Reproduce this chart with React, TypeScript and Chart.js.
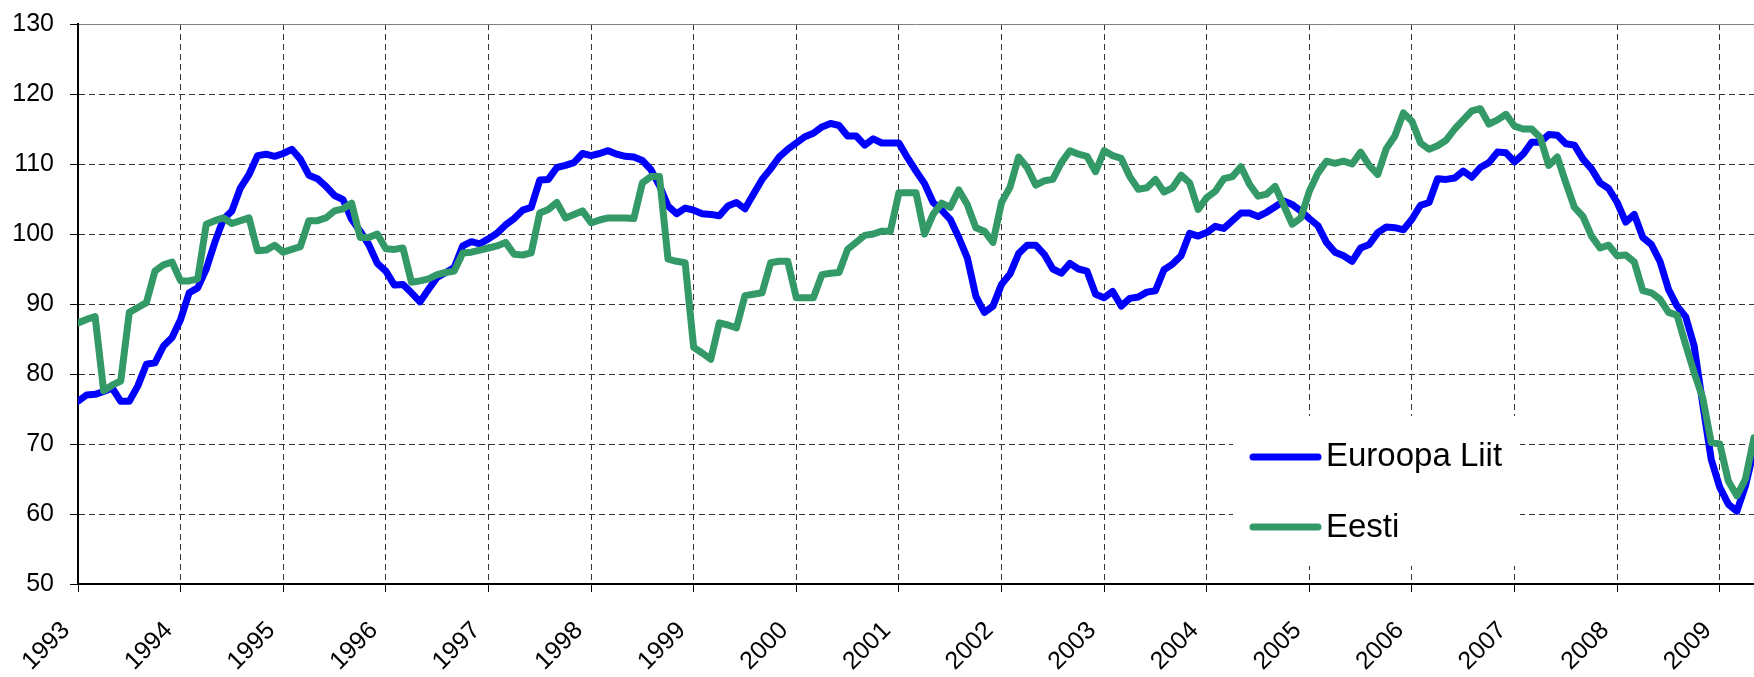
import React, { useEffect, useRef } from "react";
import { Chart, registerables } from "chart.js";

Chart.register(...registerables);

// Monthly index, Jan 1993 .. May 2009
const firstYear = 1993;
const yearTicks = [1993, 1994, 1995, 1996, 1997, 1998, 1999, 2000, 2001, 2002, 2003, 2004, 2005, 2006, 2007, 2008, 2009];
const yTicks = [50, 60, 70, 80, 90, 100, 110, 120, 130];
const seriesNames = ["Euroopa Liit", "Eesti"];

const euroopaLiit = [
  76.1, 77.0, 77.1, 77.5, 78.0, 76.1, 76.1, 78.3, 81.4, 81.6, 84.0, 85.2,
  87.8, 91.6, 92.3, 95.0, 98.8, 102.1, 103.3, 106.6, 108.5, 111.2, 111.4, 111.1,
  111.5, 112.1, 110.7, 108.4, 107.9, 106.8, 105.5, 104.9, 102.1, 100.4, 98.5, 95.8,
  94.7, 92.7, 92.8, 91.6, 90.3, 92.1, 93.8, 94.5, 95.2, 98.3, 98.9, 98.6,
  99.3, 100.1, 101.3, 102.2, 103.4, 103.8, 107.7, 107.8, 109.5, 109.8, 110.2, 111.5,
  111.2, 111.5, 111.9, 111.4, 111.1, 111.0, 110.5, 109.2, 106.9, 104.0, 102.9, 103.7,
  103.4, 102.9, 102.8, 102.6, 104.0, 104.5, 103.6, 105.7, 107.8, 109.3, 111.0, 112.1,
  113.0, 113.9, 114.4, 115.3, 115.8, 115.5, 114.0, 114.0, 112.7, 113.6, 113.0, 113.0,
  113.0, 110.9, 109.0, 107.2, 104.5, 103.4, 102.1, 99.5, 96.6, 91.1, 88.8, 89.7,
  92.8, 94.3, 97.2, 98.4, 98.4, 97.1, 95.0, 94.4, 95.8, 95.0, 94.7, 91.4,
  90.9, 91.8, 89.7, 90.8, 91.0, 91.7, 91.9, 94.9, 95.7, 96.9, 100.1, 99.7,
  100.2, 101.1, 100.8, 101.9, 103.0, 103.0, 102.5, 103.1, 103.9, 104.7, 104.2, 103.3,
  102.2, 101.2, 98.8, 97.4, 96.9, 96.1, 98.0, 98.5, 100.2, 101.0, 100.9, 100.6,
  102.1, 104.1, 104.5, 107.9, 107.8, 108.0, 109.0, 108.1, 109.5, 110.2, 111.7, 111.6,
  110.3, 111.4, 113.1, 113.1, 114.2, 114.1, 112.9, 112.7, 110.7, 109.3, 107.3, 106.5,
  104.5, 101.7, 102.8, 99.5, 98.5, 96.1, 92.1, 89.7, 88.2, 84.0, 75.7, 67.8,
  63.8, 61.4, 60.4, 64.0, 69.2,
];

const eesti = [
  87.3, 87.8, 88.2, 77.6, 78.4, 79.0, 88.8, 89.5, 90.2, 94.7, 95.6, 96.0,
  93.3, 93.3, 93.6, 101.4, 101.9, 102.3, 101.5, 101.9, 102.3, 97.6, 97.7, 98.4,
  97.4, 97.8, 98.2, 101.9, 101.9, 102.3, 103.3, 103.6, 104.4, 99.5, 99.5, 100.0,
  97.9, 97.8, 98.0, 93.1, 93.3, 93.6, 94.2, 94.5, 94.7, 97.3, 97.4, 97.7,
  98.0, 98.3, 98.8, 97.1, 97.0, 97.3, 103.0, 103.5, 104.5, 102.3, 102.8, 103.3,
  101.6, 102.0, 102.3, 102.3, 102.3, 102.2, 107.3, 108.2, 108.2, 96.4, 96.1, 95.9,
  83.8, 83.0, 82.1, 87.3, 87.0, 86.6, 91.2, 91.4, 91.6, 95.9, 96.1, 96.1,
  90.9, 90.9, 90.9, 94.2, 94.4, 94.5, 97.8, 98.8, 99.8, 100.0, 100.4, 100.4,
  105.9, 105.9, 105.9, 100.0, 102.8, 104.4, 103.8, 106.3, 104.2, 100.9, 100.4, 98.8,
  104.5, 106.7, 111.0, 109.5, 107.0, 107.6, 107.8, 110.2, 111.9, 111.4, 111.1, 108.9,
  111.9, 111.2, 110.8, 108.2, 106.4, 106.6, 107.8, 106.0, 106.6, 108.4, 107.3, 103.5,
  105.2, 106.1, 107.9, 108.2, 109.6, 107.1, 105.4, 105.7, 106.8, 104.1, 101.4, 102.3,
  106.1, 108.7, 110.4, 110.1, 110.4, 110.0, 111.7, 109.8, 108.5, 112.2, 114.0, 117.3,
  116.1, 113.0, 112.1, 112.6, 113.4, 115.0, 116.3, 117.6, 117.9, 115.7, 116.3, 117.1,
  115.4, 115.0, 115.0, 113.8, 109.8, 111.0, 107.3, 103.8, 102.5, 99.7, 98.0, 98.4,
  96.9, 97.0, 96.0, 91.9, 91.6, 90.7, 88.8, 88.4, 84.2, 80.2, 76.6, 70.2,
  70.0, 64.7, 62.6, 65.0, 70.9,
];

const colors = ["#0000FF", "#339966"];
const FONT = "'Liberation Sans', Arial, sans-serif";

export default function App() {
  const ref = useRef<HTMLCanvasElement | null>(null);

  useEffect(() => {
    document.body.style.margin = "0";
    const canvas = ref.current;
    if (!canvas) return;

    const legendPlugin = {
      id: "insideLegend",
      afterDatasetsDraw(chart: any) {
        const ctx = chart.ctx as CanvasRenderingContext2D;
        ctx.save();
        ctx.fillStyle = "#ffffff";
        ctx.fillRect(1233, 416, 287, 150);
        const rows = [
          { y: 457, base: 466 },
          { y: 527, base: 537 },
        ];
        rows.forEach((r, k) => {
          ctx.strokeStyle = colors[k];
          ctx.lineWidth = 7;
          ctx.lineCap = "round";
          ctx.beginPath();
          ctx.moveTo(1253, r.y);
          ctx.lineTo(1318, r.y);
          ctx.stroke();
          ctx.fillStyle = "#000";
          ctx.font = `33px ${FONT}`;
          ctx.textAlign = "left";
          ctx.textBaseline = "alphabetic";
          ctx.fillText(seriesNames[k], 1326, r.base);
        });
        ctx.restore();
      },
    };

    const chart = new Chart(canvas, {
      type: "line",
      data: {
        datasets: [
          {
            label: seriesNames[0],
            data: euroopaLiit.map((y, i) => ({ x: i, y })),
            borderColor: colors[0],
            backgroundColor: colors[0],
            borderWidth: 7,
            pointRadius: 0,
            tension: 0,
            borderJoinStyle: "round",
            borderCapStyle: "round",
            order: 2,
          },
          {
            label: seriesNames[1],
            data: eesti.map((y, i) => ({ x: i, y })),
            borderColor: colors[1],
            backgroundColor: colors[1],
            borderWidth: 7,
            pointRadius: 0,
            tension: 0,
            borderJoinStyle: "round",
            borderCapStyle: "round",
            order: 1,
          },
        ],
      },
      options: {
        responsive: false,
        animation: false,
        devicePixelRatio: 1,
        layout: { autoPadding: false, padding: { top: 24, left: 0, right: 0, bottom: 0 } },
        plugins: {
          legend: { display: false },
          tooltip: { enabled: false },
        },
        scales: {
          x: {
            type: "linear",
            min: 0,
            max: euroopaLiit.length - 1,
            afterBuildTicks: (scale: any) => {
              scale.ticks = yearTicks.map((yr) => ({ value: (yr - firstYear) * 12 }));
            },
            afterFit: (scale: any) => {
              scale.height = 93;
              scale.paddingLeft = 0;
              scale.paddingRight = 0;
            },
            ticks: {
              autoSkip: false,
              maxRotation: 45,
              minRotation: 45,
              padding: 24,
              labelOffset: -12,
              color: "#000",
              font: { family: FONT, size: 25 },
              callback: (v: any) => String(firstYear + Math.round(Number(v) / 12)),
            },
            grid: {
              color: "#333333",
              lineWidth: 1,
              tickLength: 8,
              tickColor: "#000",
              tickWidth: 1,
            },
            border: { display: true, color: "#000", width: 2, dash: [6, 4] },
          },
          y: {
            min: yTicks[0],
            max: yTicks[yTicks.length - 1],
            afterBuildTicks: (scale: any) => {
              scale.ticks = yTicks.map((v) => ({ value: v }));
            },
            afterFit: (scale: any) => {
              scale.width = 78;
              scale.paddingTop = 0;
              scale.paddingBottom = 0;
            },
            ticks: {
              padding: 16,
              color: "#000",
              font: { family: FONT, size: 25 },
            },
            grid: {
              color: (c: any) => (c.tick && c.tick.value === 130 ? "#808080" : "#333333"),
              lineWidth: 1,
              tickLength: 8,
              tickColor: "#000",
              tickWidth: 1,
            },
            border: {
              display: true,
              color: "#000",
              width: 2,
              dash: (c: any) => (c.tick && c.tick.value === 130 ? [] : [6, 4]),
            },
          },
        },
      },
      plugins: [legendPlugin],
    } as any);

    return () => chart.destroy();
  }, []);

  return (
    <div style={{ position: "absolute", left: 0, top: 0, width: 1754, height: 677, background: "#fff" }}>
      <canvas ref={ref} width={1754} height={677} style={{ display: "block" }} />
    </div>
  );
}
